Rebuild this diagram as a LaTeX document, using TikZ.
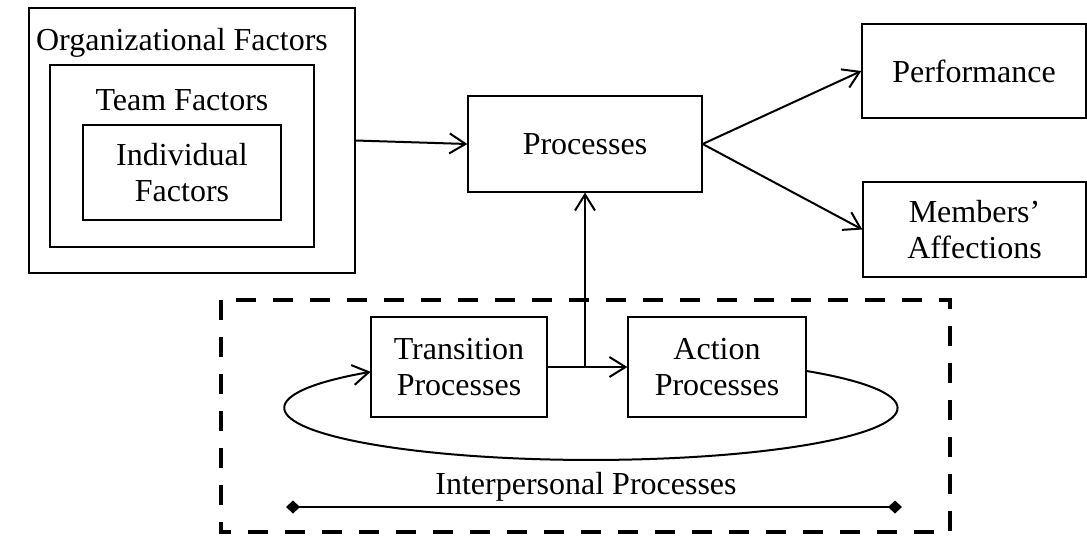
\documentclass[tikz,border=0pt]{standalone}
\usepackage{fontspec}
\setmainfont{Liberation Serif}
\usetikzlibrary{arrows.meta}
\begin{document}
\begin{tikzpicture}[x=1pt,y=1pt,
  font=\fontsize{32}{36}\selectfont,
  box/.style={draw, line width=1.3pt, fill=white, inner sep=0pt, align=center},
  conn/.style={line width=2pt, -{Straight Barb[length=16pt,width=20pt]}},
  span/.style={line width=1.5pt, {Diamond[length=14pt,width=13pt]}-{Diamond[length=14pt,width=13pt]}},
  group/.style={line width=4pt, dash pattern=on 20pt off 17pt}]
\useasboundingbox (0,0) rectangle (1087,-539);

% nested factor boxes
\node[box, minimum width=326pt, minimum height=265pt] (org) at (192,-140.5) {};
\node[box, minimum width=264pt, minimum height=182pt] (team) at (182,-156) {};
\node[box, minimum width=198pt, minimum height=95pt] (indiv) at (182,-172.5) {Individual\\Factors};
\node (orgt) at (182,-43) {Organizational Factors};
\node (teamt) at (182,-100) {Team Factors};

% central and outcome boxes
\node[box, minimum width=234pt, minimum height=96pt] (processes) at (585,-144) {Processes};
\node[box, minimum width=224pt, minimum height=94pt] (performance) at (974,-71) {Performance};
\node[box, minimum width=223pt, minimum height=95pt] (members) at (974.5,-229.5) {Members'\\Affections};

% process group
\draw[group] (221,-300) rectangle (950,-532);
\node[box, minimum width=176pt, minimum height=100pt] (transition) at (459,-367) {Transition\\Processes};
\node[box, minimum width=178pt, minimum height=100pt] (action) at (717,-367) {Action\\Processes};
\node (inter) at (586,-487) {Interpersonal Processes};
\coordinate (spanL) at (286,-507);
\coordinate (spanR) at (902,-507);

% connectors
\draw[conn] (org.east) -- (processes.west);
\draw[conn] (processes.east) -- (performance.west);
\draw[conn] (processes.east) -- (members.west);
\draw[conn] (transition.east) -- (action.west);
\draw[conn] (transition.east -| processes.south) -- (processes.south);
\draw[conn] ([yshift=-4pt]action.east) arc[start angle=45.3, end angle=-224, x radius=306.5, y radius=52];
\draw[span] (spanL) -- (spanR);
\end{tikzpicture}
\end{document}
